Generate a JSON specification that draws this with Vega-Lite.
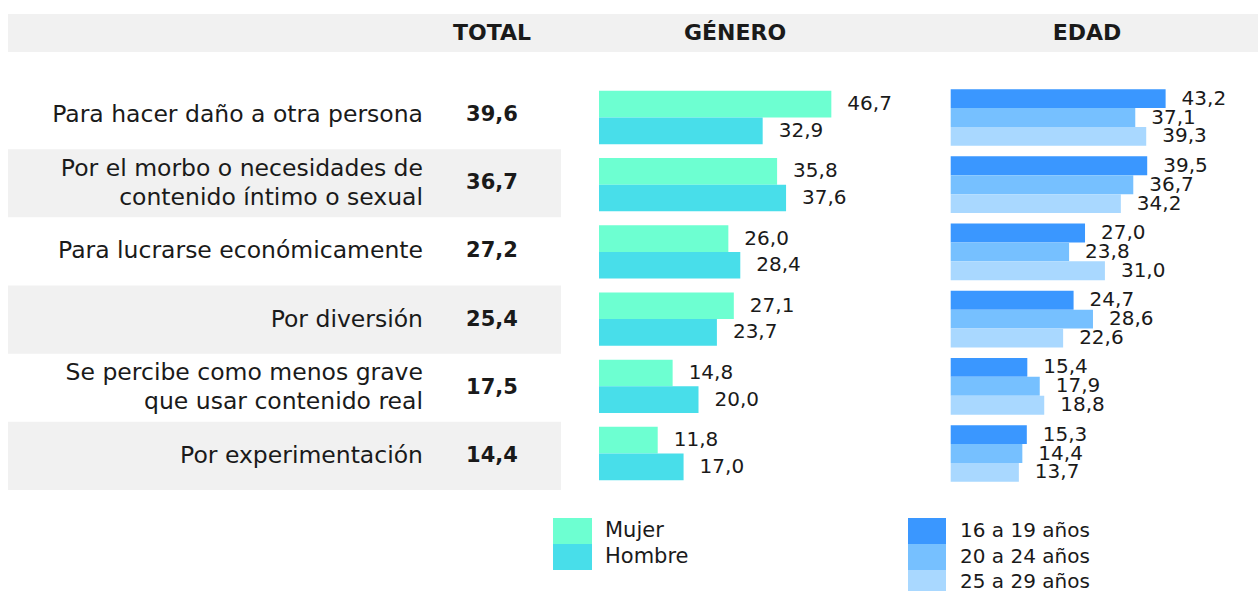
{
  "$schema": "https://vega.github.io/schema/vega-lite/v6.json",
  "width": 1258,
  "height": 592,
  "autosize": {"type": "fit", "contains": "padding"},
  "padding": {"left": 8, "top": 0, "right": 0, "bottom": 0},
  "background": "white",
  "config": {
    "view": {"stroke": null},
    "locale": {"number": {"decimal": ",", "thousands": ".", "grouping": [3], "currency": ["", " €"]}},
    "text": {"font": "DejaVu Sans", "color": "#1a1a1a"}
  },
  "datasets": {
    "motivos": [
      {"motivo": "Para hacer daño a otra persona", "lineas": ["Para hacer daño a otra persona"], "total": 39.6},
      {"motivo": "Por el morbo o necesidades de contenido íntimo o sexual", "lineas": ["Por el morbo o necesidades de", "contenido íntimo o sexual"], "total": 36.7},
      {"motivo": "Para lucrarse económicamente", "lineas": ["Para lucrarse económicamente"], "total": 27.2},
      {"motivo": "Por diversión", "lineas": ["Por diversión"], "total": 25.4},
      {"motivo": "Se percibe como menos grave que usar contenido real", "lineas": ["Se percibe como menos grave", "que usar contenido real"], "total": 17.5},
      {"motivo": "Por experimentación", "lineas": ["Por experimentación"], "total": 14.4}
    ],
    "genero": [
      {"motivo": "Para hacer daño a otra persona", "sexo": "Mujer", "valor": 46.7},
      {"motivo": "Para hacer daño a otra persona", "sexo": "Hombre", "valor": 32.9},
      {"motivo": "Por el morbo o necesidades de contenido íntimo o sexual", "sexo": "Mujer", "valor": 35.8},
      {"motivo": "Por el morbo o necesidades de contenido íntimo o sexual", "sexo": "Hombre", "valor": 37.6},
      {"motivo": "Para lucrarse económicamente", "sexo": "Mujer", "valor": 26.0},
      {"motivo": "Para lucrarse económicamente", "sexo": "Hombre", "valor": 28.4},
      {"motivo": "Por diversión", "sexo": "Mujer", "valor": 27.1},
      {"motivo": "Por diversión", "sexo": "Hombre", "valor": 23.7},
      {"motivo": "Se percibe como menos grave que usar contenido real", "sexo": "Mujer", "valor": 14.8},
      {"motivo": "Se percibe como menos grave que usar contenido real", "sexo": "Hombre", "valor": 20.0},
      {"motivo": "Por experimentación", "sexo": "Mujer", "valor": 11.8},
      {"motivo": "Por experimentación", "sexo": "Hombre", "valor": 17.0}
    ],
    "edad": [
      {"motivo": "Para hacer daño a otra persona", "edad": "16 a 19 años", "valor": 43.2},
      {"motivo": "Para hacer daño a otra persona", "edad": "20 a 24 años", "valor": 37.1},
      {"motivo": "Para hacer daño a otra persona", "edad": "25 a 29 años", "valor": 39.3},
      {"motivo": "Por el morbo o necesidades de contenido íntimo o sexual", "edad": "16 a 19 años", "valor": 39.5},
      {"motivo": "Por el morbo o necesidades de contenido íntimo o sexual", "edad": "20 a 24 años", "valor": 36.7},
      {"motivo": "Por el morbo o necesidades de contenido íntimo o sexual", "edad": "25 a 29 años", "valor": 34.2},
      {"motivo": "Para lucrarse económicamente", "edad": "16 a 19 años", "valor": 27.0},
      {"motivo": "Para lucrarse económicamente", "edad": "20 a 24 años", "valor": 23.8},
      {"motivo": "Para lucrarse económicamente", "edad": "25 a 29 años", "valor": 31.0},
      {"motivo": "Por diversión", "edad": "16 a 19 años", "valor": 24.7},
      {"motivo": "Por diversión", "edad": "20 a 24 años", "valor": 28.6},
      {"motivo": "Por diversión", "edad": "25 a 29 años", "valor": 22.6},
      {"motivo": "Se percibe como menos grave que usar contenido real", "edad": "16 a 19 años", "valor": 15.4},
      {"motivo": "Se percibe como menos grave que usar contenido real", "edad": "20 a 24 años", "valor": 17.9},
      {"motivo": "Se percibe como menos grave que usar contenido real", "edad": "25 a 29 años", "valor": 18.8},
      {"motivo": "Por experimentación", "edad": "16 a 19 años", "valor": 15.3},
      {"motivo": "Por experimentación", "edad": "20 a 24 años", "valor": 14.4},
      {"motivo": "Por experimentación", "edad": "25 a 29 años", "valor": 13.7}
    ]
  },
  "resolve": {"scale": {"x": "independent", "y": "independent", "color": "independent", "yOffset": "independent"}},
  "layer": [
    {
      "data": {"values": [{"fila": "encabezado"}]},
      "mark": {"type": "rect", "color": "#f1f1f1"},
      "encoding": {
        "y": {"field": "fila", "type": "nominal", "axis": null, "scale": {"type": "band", "domain": ["encabezado"], "range": [14, 52], "paddingInner": 0, "paddingOuter": 0}}
      }
    },
    {
      "data": {"name": "motivos"},
      "transform": [{"filter": {"field": "motivo", "oneOf": ["Por el morbo o necesidades de contenido íntimo o sexual", "Por diversión", "Por experimentación"]}}],
      "mark": {"type": "rect", "color": "#f1f1f1"},
      "encoding": {
        "y": {"field": "motivo", "type": "nominal", "axis": null, "scale": {"type": "band", "domain": ["Para hacer daño a otra persona", "Por el morbo o necesidades de contenido íntimo o sexual", "Para lucrarse económicamente", "Por diversión", "Se percibe como menos grave que usar contenido real", "Por experimentación"], "range": [81, 490], "paddingInner": 0, "paddingOuter": 0}},
        "x": {"datum": 0, "type": "quantitative", "axis": null, "scale": {"domain": [0, 1], "range": [0, 553], "nice": false}},
        "x2": {"datum": 1}
      }
    },
    {
      "data": {"values": [{"col": "TOTAL"}]},
      "mark": {"type": "text", "fontWeight": "bold", "fontSize": 22, "align": "center", "baseline": "middle"},
      "encoding": {
        "x": {"field": "col", "type": "nominal", "axis": null, "scale": {"type": "point", "domain": ["Motivo", "TOTAL"], "range": [415, 484], "padding": 0}},
        "y": {"datum": "encabezado", "type": "nominal", "axis": null, "scale": {"type": "band", "domain": ["encabezado"], "range": [14, 52], "paddingInner": 0, "paddingOuter": 0}},
        "text": {"field": "col"}
      }
    },
    {
      "data": {"values": [{"col": "GÉNERO"}, {"col": "EDAD"}]},
      "mark": {"type": "text", "fontWeight": "bold", "fontSize": 22, "align": "center", "baseline": "middle"},
      "encoding": {
        "x": {"field": "col", "type": "nominal", "axis": null, "scale": {"type": "point", "domain": ["GÉNERO", "EDAD"], "range": [727, 1079], "padding": 0}},
        "y": {"datum": "encabezado", "type": "nominal", "axis": null, "scale": {"type": "band", "domain": ["encabezado"], "range": [14, 52], "paddingInner": 0, "paddingOuter": 0}},
        "text": {"field": "col"}
      }
    },
    {
      "data": {"name": "motivos"},
      "transform": [{"filter": "length(datum.lineas) == 1"}],
      "mark": {"type": "text", "fontSize": 23.5, "align": "right", "baseline": "middle"},
      "encoding": {
        "x": {"datum": "Motivo", "type": "nominal", "axis": null, "scale": {"type": "point", "domain": ["Motivo", "TOTAL"], "range": [415, 484], "padding": 0}},
        "y": {"field": "motivo", "type": "nominal", "axis": null, "scale": {"type": "band", "domain": ["Para hacer daño a otra persona", "Por el morbo o necesidades de contenido íntimo o sexual", "Para lucrarse económicamente", "Por diversión", "Se percibe como menos grave que usar contenido real", "Por experimentación"], "range": [81, 490], "paddingInner": 0, "paddingOuter": 0}},
        "text": {"field": "lineas"}
      }
    },
    {
      "data": {"name": "motivos"},
      "transform": [{"filter": "length(datum.lineas) > 1"}],
      "mark": {"type": "text", "fontSize": 23.5, "lineHeight": 29, "align": "right", "baseline": "middle", "dy": -14.5},
      "encoding": {
        "x": {"datum": "Motivo", "type": "nominal", "axis": null, "scale": {"type": "point", "domain": ["Motivo", "TOTAL"], "range": [415, 484], "padding": 0}},
        "y": {"field": "motivo", "type": "nominal", "axis": null, "scale": {"type": "band", "domain": ["Para hacer daño a otra persona", "Por el morbo o necesidades de contenido íntimo o sexual", "Para lucrarse económicamente", "Por diversión", "Se percibe como menos grave que usar contenido real", "Por experimentación"], "range": [81, 490], "paddingInner": 0, "paddingOuter": 0}},
        "text": {"field": "lineas"}
      }
    },
    {
      "data": {"name": "motivos"},
      "mark": {"type": "text", "fontSize": 21, "fontWeight": "bold", "align": "center", "baseline": "middle"},
      "encoding": {
        "x": {"datum": "TOTAL", "type": "nominal", "axis": null, "scale": {"type": "point", "domain": ["Motivo", "TOTAL"], "range": [415, 484], "padding": 0}},
        "y": {"field": "motivo", "type": "nominal", "axis": null, "scale": {"type": "band", "domain": ["Para hacer daño a otra persona", "Por el morbo o necesidades de contenido íntimo o sexual", "Para lucrarse económicamente", "Por diversión", "Se percibe como menos grave que usar contenido real", "Por experimentación"], "range": [81, 490], "paddingInner": 0, "paddingOuter": 0}},
        "text": {"field": "total", "type": "quantitative", "format": ".1f"}
      }
    },
    {
      "data": {"name": "genero"},
      "mark": {"type": "bar"},
      "encoding": {
        "y": {"field": "motivo", "type": "nominal", "axis": null, "sort": null, "scale": {"type": "band", "range": [83.9, 487.1], "paddingInner": 0.207, "paddingOuter": 0.1035}},
        "yOffset": {"field": "sexo", "type": "nominal", "sort": null, "scale": {"type": "band", "domain": ["Mujer", "Hombre"], "paddingInner": 0, "paddingOuter": 0}},
        "x": {"field": "valor", "type": "quantitative", "axis": null, "scale": {"domain": [0, 50], "range": [591, 839.75], "nice": false}},
        "color": {"field": "sexo", "type": "nominal", "legend": null, "scale": {"domain": ["Mujer", "Hombre"], "range": ["#6dffd1", "#48deea"]}}
      }
    },
    {
      "data": {"name": "genero"},
      "mark": {"type": "text", "fontSize": 20, "align": "left", "baseline": "middle", "dx": 16},
      "encoding": {
        "y": {"field": "motivo", "type": "nominal", "axis": null, "sort": null, "scale": {"type": "band", "range": [83.9, 487.1], "paddingInner": 0.207, "paddingOuter": 0.1035}},
        "yOffset": {"field": "sexo", "type": "nominal", "sort": null, "scale": {"type": "band", "domain": ["Mujer", "Hombre"], "paddingInner": 0, "paddingOuter": 0}},
        "x": {"field": "valor", "type": "quantitative", "axis": null, "scale": {"domain": [0, 50], "range": [591, 839.75], "nice": false}},
        "text": {"field": "valor", "type": "quantitative", "format": ".1f"}
      }
    },
    {
      "data": {"name": "edad"},
      "mark": {"type": "bar"},
      "encoding": {
        "y": {"field": "motivo", "type": "nominal", "axis": null, "sort": null, "scale": {"type": "band", "range": [83.9, 487.1], "paddingInner": 0.156, "paddingOuter": 0.078}},
        "yOffset": {"field": "edad", "type": "nominal", "sort": null, "scale": {"type": "band", "domain": ["16 a 19 años", "20 a 24 años", "25 a 29 años"], "paddingInner": 0, "paddingOuter": 0}},
        "x": {"field": "valor", "type": "quantitative", "axis": null, "scale": {"domain": [0, 50], "range": [942.7, 1191.45], "nice": false}},
        "color": {"field": "edad", "type": "nominal", "legend": null, "scale": {"domain": ["16 a 19 años", "20 a 24 años", "25 a 29 años"], "range": ["#3a97ff", "#76c0ff", "#a9d8ff"]}}
      }
    },
    {
      "data": {"name": "edad"},
      "mark": {"type": "text", "fontSize": 20, "align": "left", "baseline": "middle", "dx": 16},
      "encoding": {
        "y": {"field": "motivo", "type": "nominal", "axis": null, "sort": null, "scale": {"type": "band", "range": [83.9, 487.1], "paddingInner": 0.156, "paddingOuter": 0.078}},
        "yOffset": {"field": "edad", "type": "nominal", "sort": null, "scale": {"type": "band", "domain": ["16 a 19 años", "20 a 24 años", "25 a 29 años"], "paddingInner": 0, "paddingOuter": 0}},
        "x": {"field": "valor", "type": "quantitative", "axis": null, "scale": {"domain": [0, 50], "range": [942.7, 1191.45], "nice": false}},
        "text": {"field": "valor", "type": "quantitative", "format": ".1f"}
      }
    },
    {
      "data": {"values": [{"sexo": "Mujer"}, {"sexo": "Hombre"}]},
      "mark": {"type": "rect", "clip": true},
      "encoding": {
        "y": {"field": "sexo", "type": "nominal", "axis": null, "sort": null, "scale": {"type": "band", "domain": ["Mujer", "Hombre"], "range": [518, 570], "paddingInner": 0, "paddingOuter": 0}},
        "x": {"datum": 0, "type": "quantitative", "axis": null, "scale": {"domain": [0, 1], "range": [545, 584], "nice": false}},
        "x2": {"datum": 1},
        "color": {"field": "sexo", "type": "nominal", "legend": null, "scale": {"domain": ["Mujer", "Hombre"], "range": ["#6dffd1", "#48deea"]}}
      }
    },
    {
      "data": {"values": [{"sexo": "Mujer"}, {"sexo": "Hombre"}]},
      "mark": {"type": "text", "fontSize": 21, "align": "left", "baseline": "middle", "dx": 13},
      "encoding": {
        "y": {"field": "sexo", "type": "nominal", "axis": null, "sort": null, "scale": {"type": "band", "domain": ["Mujer", "Hombre"], "range": [518, 570], "paddingInner": 0, "paddingOuter": 0}},
        "x": {"datum": 1, "type": "quantitative", "axis": null, "scale": {"domain": [0, 1], "range": [545, 584], "nice": false}},
        "text": {"field": "sexo"}
      }
    },
    {
      "data": {"values": [{"edad": "16 a 19 años"}, {"edad": "20 a 24 años"}, {"edad": "25 a 29 años"}]},
      "mark": {"type": "rect", "clip": true},
      "encoding": {
        "y": {"field": "edad", "type": "nominal", "axis": null, "sort": null, "scale": {"type": "band", "domain": ["16 a 19 años", "20 a 24 años", "25 a 29 años"], "range": [518, 596], "paddingInner": 0, "paddingOuter": 0}},
        "x": {"datum": 0, "type": "quantitative", "axis": null, "scale": {"domain": [0, 1], "range": [900, 938], "nice": false}},
        "x2": {"datum": 1},
        "color": {"field": "edad", "type": "nominal", "legend": null, "scale": {"domain": ["16 a 19 años", "20 a 24 años", "25 a 29 años"], "range": ["#3a97ff", "#76c0ff", "#a9d8ff"]}}
      }
    },
    {
      "data": {"values": [{"edad": "16 a 19 años"}, {"edad": "20 a 24 años"}, {"edad": "25 a 29 años"}]},
      "mark": {"type": "text", "fontSize": 20, "align": "left", "baseline": "middle", "dx": 14},
      "encoding": {
        "y": {"field": "edad", "type": "nominal", "axis": null, "sort": null, "scale": {"type": "band", "domain": ["16 a 19 años", "20 a 24 años", "25 a 29 años"], "range": [518, 595], "paddingInner": 0, "paddingOuter": 0}},
        "x": {"datum": 1, "type": "quantitative", "axis": null, "scale": {"domain": [0, 1], "range": [900, 938], "nice": false}},
        "text": {"field": "edad"}
      }
    }
  ]
}
